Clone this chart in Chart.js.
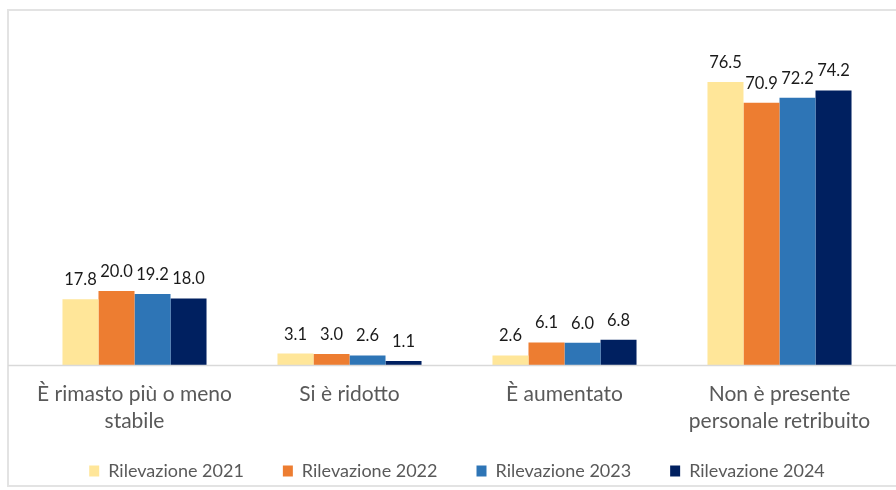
<!DOCTYPE html>
<html>
<head>
<meta charset="utf-8">
<script src="https://cdn.jsdelivr.net/npm/chart.js@4"></script>
<style>
  body { margin: 0; background: #fff; }
  #wrap { position: relative; width: 896px; height: 490px; overflow: hidden; }
  #frame { position: absolute; left: 7px; top: 9px; width: 900px; height: 478px; border: 2px solid #e3e3e3; box-sizing: border-box; }
  canvas { position: absolute; left: 0; top: 0; }
</style>
</head>
<body>
<div id="wrap">
  <div id="frame"></div>
  <canvas id="chart" width="896" height="490"></canvas>
</div>
<script>
const categories = [
    ['È rimasto più o meno', 'stabile'],
    'Si è ridotto',
    'È aumentato',
    ['Non è presente', 'personale retribuito']
];
const seriesNames = ['Rilevazione 2021', 'Rilevazione 2022', 'Rilevazione 2023', 'Rilevazione 2024'];
const values2021 = [17.8, 3.1, 2.6, 76.5];
const values2022 = [20.0, 3.0, 6.1, 70.9];
const values2023 = [19.2, 2.6, 6.0, 72.2];
const values2024 = [18.0, 1.1, 6.8, 74.2];
const colors = ['#FFE699', '#ED7D31', '#2E75B6', '#002060'];

const FONT = 'Lato, "Open Sans", sans-serif';

// value labels above bars + long baseline
const barLabels = {
    id: 'barLabels',
    afterLayout(chart) {
        // let the two-line category labels run into the legend band
        chart.scales.x.bottom = chart.height;
    },
    afterDatasetsDraw(chart) {
        const ctx = chart.ctx;
        const area = chart.chartArea;
        ctx.save();
        ctx.strokeStyle = '#d9d9d9';
        ctx.lineWidth = 1.5;
        ctx.beginPath();
        ctx.moveTo(8, area.bottom + 0.5);
        ctx.lineTo(896, area.bottom + 0.5);
        ctx.stroke();

        ctx.font = '16.5px ' + FONT;
        ctx.fillStyle = '#1a1a1a';
        ctx.textAlign = 'center';
        ctx.textBaseline = 'alphabetic';
        chart.data.datasets.forEach((ds, i) => {
            chart.getDatasetMeta(i).data.forEach((bar, j) => {
                ctx.fillText(ds.data[j].toFixed(1), bar.x, bar.y - 14);
            });
        });
        ctx.restore();
    }
};

const chart = new Chart(document.getElementById('chart').getContext('2d'), {
    type: 'bar',
    data: {
        labels: categories,
        datasets: [
            { label: seriesNames[0], data: values2021, backgroundColor: colors[0] },
            { label: seriesNames[1], data: values2022, backgroundColor: colors[1] },
            { label: seriesNames[2], data: values2023, backgroundColor: colors[2] },
            { label: seriesNames[3], data: values2024, backgroundColor: colors[3] }
        ]
    },
    options: {
        responsive: false,
        animation: false,
        layout: {
            padding: { left: 27, right: 9, top: 32, bottom: 0 }
        },
        datasets: {
            bar: {
                categoryPercentage: 0.67,
                barPercentage: 1.0
            }
        },
        plugins: {
            legend: {
                position: 'bottom',
                labels: {
                    boxWidth: 10,
                    boxHeight: 11,
                    padding: 39,
                    color: '#595959',
                    font: { family: FONT, size: 18 }
                }
            },
            tooltip: { enabled: false }
        },
        scales: {
            x: {
                grid: { display: false },
                border: { display: false },
                ticks: {
                    color: '#595959',
                    padding: 8,
                    font: { family: FONT, size: 21, lineHeight: 1.28 }
                },
                afterFit(scale) {
                    scale.height = 58;
                }
            },
            y: {
                display: false,
                min: 0,
                max: 90
            }
        }
    },
    plugins: [barLabels]
});
</script>
</body>
</html>
